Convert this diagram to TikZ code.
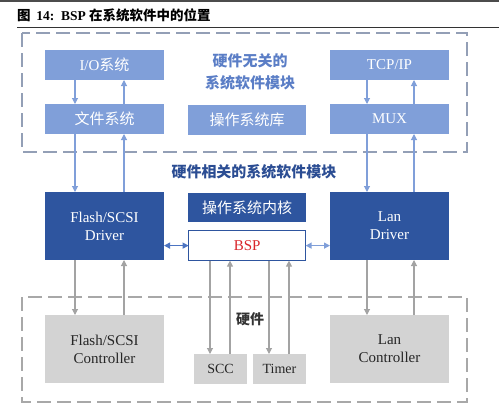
\documentclass[tikz,border=0pt]{standalone}
\usepackage{fontspec}
\setmainfont{Liberation Serif}
\newfontfamily\cjk{Noto Sans CJK SC}
\usetikzlibrary{arrows.meta}
\definecolor{lblue}{HTML}{809FD9}
\definecolor{dblue}{HTML}{2E559F}
\definecolor{lgray}{HTML}{D3D3D3}
\definecolor{tblue}{HTML}{5B7EC6}
\definecolor{hblue}{HTML}{2B4D93}
\definecolor{dashb}{HTML}{939FB6}
\definecolor{dashg}{HTML}{A8A8A8}
\definecolor{agray}{HTML}{A3A3A3}
\definecolor{bspred}{HTML}{D9262B}
\definecolor{darr}{HTML}{4C74C2}
\tikzset{
  base/.style={anchor=north west, inner sep=0pt, outer sep=0pt, align=center, font=\fontsize{15}{18}\selectfont},
  lbox/.style={base, fill=lblue, text=white},
  dbox/.style={base, fill=dblue, text=white},
  gbox/.style={base, fill=lgray, text=black!85},
  bbox/.style={base, fill=white, draw=dblue, line width=1.2pt, text=bspred},
  tip/.style={Triangle[width=6pt,length=6pt]},
  barr/.style={draw=lblue, line width=1.1pt, -{Triangle[width=6pt,length=6pt]}},
  garr/.style={draw=agray, line width=1.1pt, -{Triangle[width=6pt,length=6pt]}},
  dtop/.style={draw=dashb, line width=2.4pt, dash pattern=on 14pt off 6pt},
  dbot/.style={draw=dashg, line width=2.4pt, dash pattern=on 14pt off 6pt},
}
\begin{document}
\begin{tikzpicture}[x=1pt,y=-1pt]
\useasboundingbox (0,0) rectangle (499,407);
% page top rule and title
\draw[draw=black!70, line width=2pt] (0,0.5) -- (499,0.5);
\node[anchor=west, inner sep=0pt, font=\fontsize{13.5}{16}\selectfont\bfseries] (title) at (17,15) {{\cjk 图}\, 14:\, BSP {\cjk 在系统软件中的位置}};
\draw[draw=black!80, line width=1.3pt] (17,27.5) -- (499,27.5);
% dashed groups
\draw[dtop] (22,33) rectangle (467,152);
\draw[dbot] (22,297) rectangle (467,402);
% top group
\node[lbox, minimum width=119pt, minimum height=30pt] (io) at (45,50) {I/O{\cjk 系统}};
\node[lbox, minimum width=119pt, minimum height=30pt] (fs) at (45,104) {{\cjk 文件系统}};
\node[lbox, minimum width=118pt, minimum height=30pt] (oslib) at (188,105) {{\cjk 操作系统库}};
\node[lbox, minimum width=119pt, minimum height=30pt] (tcp) at (330,50) {TCP/IP};
\node[lbox, minimum width=119pt, minimum height=30pt] (mux) at (330,104) {MUX};
\node[inner sep=0pt, align=center, text=tblue, font=\fontsize{15}{21.5}\selectfont\cjk\bfseries] (hwfree) at (250,72) {硬件无关的\\系统软件模块};
% middle
\node[inner sep=0pt, text=hblue, font=\fontsize{15}{18}\selectfont\cjk\bfseries] (hwdep) at (254,172) {硬件相关的系统软件模块};
\node[dbox, minimum width=119pt, minimum height=68pt] (fdrv) at (45,192) {Flash/SCSI\\Driver};
\node[dbox, minimum width=118pt, minimum height=29pt] (kern) at (188,193) {{\cjk 操作系统内核}};
\node[bbox, minimum width=117pt, minimum height=30pt] (bsp) at (188.6,230.6) {BSP};
\node[dbox, minimum width=119pt, minimum height=68pt] (ldrv) at (330,192) {Lan\\Driver};
% hardware
\node[inner sep=0pt, text=black!80, font=\fontsize{14}{16}\selectfont\cjk\bfseries] (hw) at (250,319) {硬件};
\node[gbox, minimum width=119pt, minimum height=68pt] (fctl) at (45,315) {Flash/SCSI\\Controller};
\node[gbox, minimum width=53pt, minimum height=30pt, font=\fontsize{14}{16}\selectfont] (scc) at (194,354) {SCC};
\node[gbox, minimum width=53pt, minimum height=30pt, font=\fontsize{14}{16}\selectfont] (timer) at (253,354) {Timer};
\node[gbox, minimum width=119pt, minimum height=68pt] (lctl) at (330,315) {Lan\\Controller};
% arrows, left column
\path ([xshift=-29.5pt]io.south) coordinate (c1) ([xshift=19.5pt]io.south) coordinate (c2);
\draw[barr] (c1) -- (c1 |- fs.north);
\draw[barr] (c2 |- fs.north) -- (c2);
\draw[barr] (c1 |- fs.south) -- (c1 |- fdrv.north);
\draw[barr] (c2 |- fdrv.north) -- (c2 |- fs.south);
\draw[garr] (c1 |- fdrv.south) -- (c1 |- fctl.north);
\draw[garr] (c2 |- fctl.north) -- (c2 |- fdrv.south);
% arrows, right column
\path ([xshift=-22.5pt]tcp.south) coordinate (r1) ([xshift=24.5pt]tcp.south) coordinate (r2);
\draw[barr] (r1) -- (r1 |- mux.north);
\draw[barr] (r2 |- mux.north) -- (r2);
\draw[barr] (r1 |- mux.south) -- (r1 |- ldrv.north);
\draw[barr] (r2 |- ldrv.north) -- (r2 |- mux.south);
\draw[garr] (r1 |- ldrv.south) -- (r1 |- lctl.north);
\draw[garr] (r2 |- lctl.north) -- (r2 |- ldrv.south);
% arrows, BSP to SCC / Timer
\path ([xshift=-10.5pt]scc.north) coordinate (s1) ([xshift=9.5pt]scc.north) coordinate (s2)
      ([xshift=-10.5pt]timer.north) coordinate (t1) ([xshift=9.5pt]timer.north) coordinate (t2);
\draw[garr] (s1 |- bsp.south) -- (s1);
\draw[garr] (s2) -- (s2 |- bsp.south);
\draw[garr] (t1 |- bsp.south) -- (t1);
\draw[garr] (t2) -- (t2 |- bsp.south);
% double arrows
\draw[draw=darr, line width=1.3pt, {Triangle[width=6pt,length=6pt]}-{Triangle[width=6pt,length=6pt]}] (fdrv.east |- bsp.west) -- (bsp.west);
\draw[draw=lblue, line width=1.3pt, {Triangle[width=6pt,length=6pt]}-{Triangle[width=6pt,length=6pt]}] (bsp.east) -- (ldrv.west |- bsp.east);
\end{tikzpicture}
\end{document}
